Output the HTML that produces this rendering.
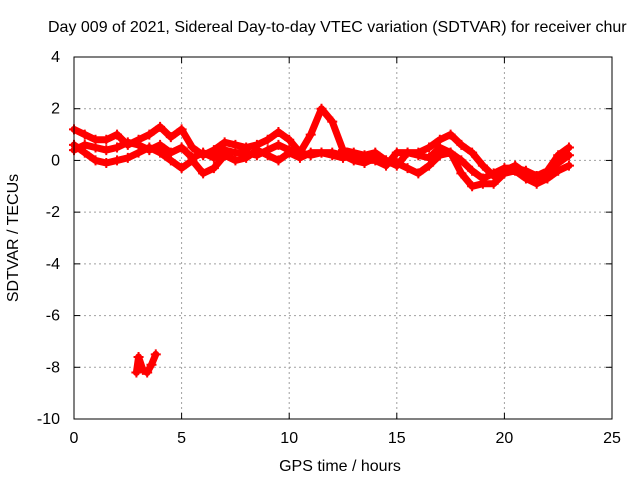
<!DOCTYPE html>
<html><head><meta charset="utf-8"><style>
html,body{margin:0;padding:0;background:#fff}
svg text{font-family:"Liberation Sans",sans-serif;font-size:16px;fill:#000}
</style></head><body>
<svg width="640" height="480" id="chart">
<text x="48" y="32">Day 009 of 2021, Sidereal Day-to-day VTEC variation (SDTVAR) for receiver chur</text>
<text x="340" y="471" text-anchor="middle">GPS time / hours</text>
<text transform="translate(18,238) rotate(-90)" text-anchor="middle">SDTVAR / TECUs</text>
<g id="grid"></g><g id="ticks"></g><g id="marks"></g>
<rect x="74" y="57" width="538" height="362" fill="none" stroke="#000"/>
</svg>
<script>
const xTicks=[0,5,10,15,20,25];
const yTicks=[4,2,0,-2,-4,-6,-8,-10];
const times=[0,0.5,1,1.5,2,2.5,3,3.5,4,4.5,5,5.5,6,6.5,7,7.5,8,8.5,9,9.5,10,10.5,11,11.5,12,12.5,13,13.5,14,14.5,15,15.5,16,16.5,17,17.5,18,18.5,19,19.5,20,20.5,21,21.5,22,22.5,23];
const upper=[1.2,1.0,0.8,0.8,1.0,0.6,0.8,1.0,1.3,0.9,1.2,0.5,0.2,0.4,0.7,0.6,0.5,0.6,0.8,1.1,0.8,0.3,1.0,2.0,1.5,0.4,0.3,0.2,0.3,0.0,-0.2,0.3,0.3,0.5,0.8,1.0,0.6,0.3,-0.2,-0.6,-0.4,-0.2,-0.5,-0.6,-0.4,0.2,0.5];
const middle=[0.4,0.6,0.5,0.4,0.5,0.7,0.6,0.4,0.6,0.3,0.5,0.1,0.3,0.1,0.4,0.3,0.3,0.2,0.4,0.6,0.4,0.3,0.2,0.3,0.2,0.1,0.2,0.0,0.0,-0.2,0.3,0.3,0.2,0.1,0.5,0.3,0.0,-0.4,-0.7,-0.5,-0.3,-0.3,-0.4,-0.6,-0.5,-0.1,0.2];
const lower=[0.6,0.3,0.0,-0.1,0.0,0.1,0.3,0.5,0.3,0.0,-0.3,0.0,-0.5,-0.3,0.2,0.0,0.1,0.4,0.2,0.0,0.3,0.1,0.3,0.3,0.3,0.2,0.0,-0.1,0.1,0.0,-0.1,-0.3,-0.5,-0.2,0.2,0.3,-0.5,-1.0,-0.9,-0.9,-0.5,-0.4,-0.7,-0.9,-0.7,-0.4,-0.2];
const outTimes=[2.9,3.0,3.2,3.4,3.6,3.8];
const outVals=[-8.2,-7.6,-8.1,-8.2,-7.9,-7.5];
const NS='http://www.w3.org/2000/svg';
const X=v=>74+v*538/25, Y=v=>57+(4-v)*362/14;
function mk(t,a,p){const e=document.createElementNS(NS,t);for(const k in a)e.setAttribute(k,a[k]);p.appendChild(e);return e;}
const grid=document.getElementById('grid'),ticks=document.getElementById('ticks'),marks=document.getElementById('marks');
xTicks.forEach(t=>{
 if(t>0&&t<25){const l=mk('line',{x1:X(t),x2:X(t),y1:57,y2:419,stroke:'#a0a0a0','stroke-dasharray':'2,3'},grid);
 
 }
 mk('line',{x1:X(t),x2:X(t),y1:419,y2:413,stroke:'#000'},ticks);mk('line',{x1:X(t),x2:X(t),y1:57,y2:63,stroke:'#000'},ticks);
 const tx=mk('text',{x:X(t),y:443,'text-anchor':'middle'},ticks);tx.textContent=t;
 
 
});
yTicks.forEach(t=>{
 if(t<4&&t>-10){const l=mk('line',{x1:74,x2:612,y1:Y(t),y2:Y(t),stroke:'#a0a0a0','stroke-dasharray':'2,3'},grid);
 
 }
 mk('line',{x1:74,x2:80,y1:Y(t),y2:Y(t),stroke:'#000'},ticks);mk('line',{x1:606,x2:612,y1:Y(t),y2:Y(t),stroke:'#000'},ticks);
 const tx=mk('text',{x:60,y:Y(t)+5,'text-anchor':'end'},ticks);tx.textContent=t;
 
 
});
function series(ts,vs,name){
 const pts=ts.map((t,i)=>X(t)+','+Y(vs[i])).join(' ');
 const pl=mk('polyline',{points:pts,fill:'none',stroke:'#f00','stroke-width':7,'stroke-linejoin':'round','stroke-linecap':'round'},marks);
 
 
 ts.forEach((t,i)=>{const x=X(t),y=Y(vs[i]);
  const p=mk('path',{d:`M${x-5},${y}H${x+5}M${x},${y-5}V${y+5}`,stroke:'#f00','stroke-width':2},marks);
  
  });
}
series(times,upper,'series-upper');
series(times,middle,'series-middle');
series(times,lower,'series-lower');
series(outTimes,outVals,'series-outlier');
</script>
</body></html>
